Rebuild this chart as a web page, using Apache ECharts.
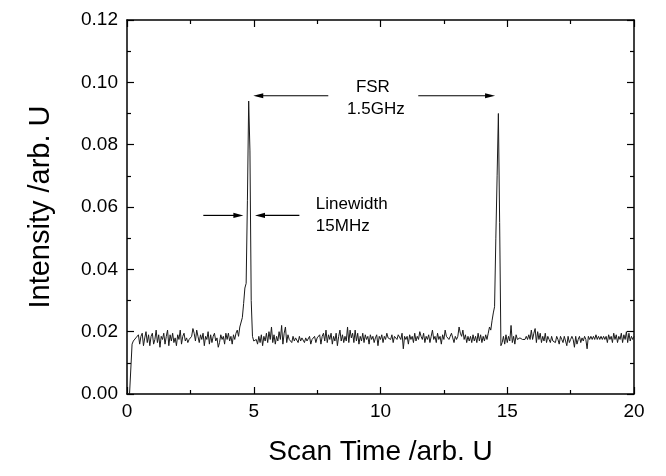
<!DOCTYPE html>
<html>
<head>
<meta charset="utf-8">
<script src="https://cdn.jsdelivr.net/npm/echarts@6/dist/echarts.min.js"></script>
<style>
html,body{margin:0;padding:0;background:#fff;}
#chart{width:666px;height:476px;}
</style>
</head>
<body>
<div id="chart"></div>
<script>
// Scan time grid (arb. U)
var scanTimeStart = 0;
var scanTimeStep = 0.05;

// Measured intensity (arb. U), one value per grid step from 0 to 20
var intensity = [
  0, 0, 0, 0, 0.016, 0.017, 0.0165, 0.018, 0.0175, 0.019, 0.016, 0.0185, 0.0195, 0.0155, 0.018, 0.02, 0.0165, 0.019, 0.0155, 0.0185,
  0.0195, 0.016, 0.0175, 0.0205, 0.0165, 0.019, 0.015, 0.0185, 0.0175, 0.0195, 0.016, 0.0185, 0.0205, 0.0155, 0.019, 0.017, 0.0195, 0.0165, 0.018, 0.0155,
  0.019, 0.0175, 0.0205, 0.016, 0.0185, 0.0195, 0.017, 0.018, 0.0165, 0.0175, 0.018, 0.0185, 0.021, 0.0195, 0.017, 0.0205, 0.0185, 0.0165, 0.019, 0.0175,
  0.0195, 0.0155, 0.0185, 0.0175, 0.02, 0.016, 0.019, 0.0165, 0.0185, 0.0195, 0.017, 0.018, 0.015, 0.0165, 0.019, 0.0175, 0.0185, 0.016, 0.0195, 0.0175,
  0.0195, 0.017, 0.0185, 0.016, 0.019, 0.0175, 0.0195, 0.0205, 0.0185, 0.0215, 0.021, 0.0245, 0.029, 0.034, 0.0355, 0.062, 0.094, 0.078, 0.03, 0.0185,
  0.017, 0.0165, 0.0175, 0.016, 0.0185, 0.0165, 0.019, 0.0155, 0.0185, 0.017, 0.0195, 0.0165, 0.02, 0.0175, 0.0215, 0.0165, 0.019, 0.016, 0.0185, 0.017,
  0.02, 0.0175, 0.022, 0.016, 0.0195, 0.0215, 0.0165, 0.019, 0.0175, 0.018, 0.0165, 0.0185, 0.017, 0.018, 0.0175, 0.0165, 0.0185, 0.017, 0.018, 0.0175,
  0.0165, 0.018, 0.017, 0.0175, 0.0185, 0.016, 0.0175, 0.017, 0.0185, 0.0165, 0.018, 0.0175, 0.019, 0.016, 0.0185, 0.0195, 0.017, 0.0205, 0.0165, 0.019,
  0.0175, 0.0195, 0.016, 0.0185, 0.017, 0.0195, 0.0155, 0.0185, 0.0205, 0.017, 0.019, 0.0165, 0.0185, 0.017, 0.0215, 0.0165, 0.0205, 0.018, 0.0195, 0.0165,
  0.0205, 0.017, 0.0195, 0.016, 0.0185, 0.017, 0.0195, 0.0165, 0.019, 0.0175, 0.0185, 0.016, 0.019, 0.0175, 0.0185, 0.0165, 0.018, 0.019, 0.0155, 0.0185,
  0.0175, 0.019, 0.0165, 0.0185, 0.0175, 0.0195, 0.018, 0.0185, 0.0175, 0.019, 0.0165, 0.0185, 0.018, 0.0175, 0.019, 0.0185, 0.0175, 0.0195, 0.0145, 0.0185,
  0.0175, 0.0185, 0.016, 0.019, 0.0175, 0.0185, 0.0165, 0.0195, 0.017, 0.0185, 0.0175, 0.02, 0.0185, 0.0175, 0.0195, 0.0165, 0.0185, 0.0175, 0.019, 0.0165,
  0.0185, 0.0205, 0.0175, 0.0185, 0.0165, 0.0195, 0.0175, 0.0185, 0.016, 0.019, 0.0175, 0.0205, 0.0185, 0.019, 0.0175, 0.0185, 0.0195, 0.018, 0.0165, 0.0185,
  0.0175, 0.0185, 0.0215, 0.0195, 0.0185, 0.0205, 0.0175, 0.019, 0.0165, 0.0185, 0.017, 0.0185, 0.0165, 0.019, 0.017, 0.0185, 0.0165, 0.0195, 0.017, 0.019,
  0.0165, 0.0185, 0.017, 0.019, 0.0175, 0.0195, 0.0215, 0.0205, 0.0235, 0.026, 0.028, 0.05, 0.07, 0.09, 0.055, 0.0155, 0.0165, 0.0185, 0.016, 0.019,
  0.0165, 0.0185, 0.017, 0.022, 0.0165, 0.0185, 0.016, 0.019, 0.0175, 0.0175, 0.018, 0.0175, 0.0175, 0.018, 0.0175, 0.0185, 0.0175, 0.019, 0.0175, 0.0205,
  0.0175, 0.0195, 0.021, 0.0165, 0.02, 0.0175, 0.0195, 0.0165, 0.0185, 0.017, 0.0195, 0.0165, 0.0185, 0.0175, 0.0165, 0.0185, 0.017, 0.0175, 0.0165, 0.0185,
  0.0175, 0.016, 0.0185, 0.0175, 0.0165, 0.0185, 0.017, 0.0155, 0.0185, 0.0165, 0.0175, 0.0185, 0.0175, 0.015, 0.0185, 0.016, 0.0175, 0.0185, 0.0165, 0.018,
  0.017, 0.0185, 0.0175, 0.0145, 0.0185, 0.0175, 0.0185, 0.0175, 0.0185, 0.0175, 0.019, 0.0175, 0.0185, 0.0175, 0.0185, 0.0175, 0.0185, 0.0175, 0.0185, 0.0165,
  0.019, 0.0175, 0.0185, 0.0165, 0.0195, 0.0175, 0.019, 0.0165, 0.0185, 0.0175, 0.0195, 0.0165, 0.019, 0.0175, 0.02, 0.0165, 0.0195, 0.017, 0.0185, 0.0175,
  0.0185
];

// Axis ranges and ticks
var xRange = [0, 20], xInterval = 5;
var yRange = [0, 0.12], yInterval = 0.02;

// Annotation arrows: [from, to] in data coordinates
var fsrArrows = [
  [[7.94, 0.0957], [4.98, 0.0957]],
  [[11.49, 0.0957], [14.52, 0.0957]]
];
var linewidthArrows = [
  [[3.01, 0.0573], [4.59, 0.0573]],
  [[6.80, 0.0573], [5.05, 0.0573]]
];
// Annotation texts: [x, y, text, align]
var annotationTexts = [
  [9.70, 0.0985, 'FSR', 'center'],
  [9.82, 0.0915, '1.5GHz', 'center'],
  [7.45, 0.0608, 'Linewidth', 'left'],
  [7.45, 0.0537, '15MHz', 'left']
];

var FONT = 'Liberation Sans, Arial, sans-serif';
var seriesData = intensity.map(function (v, i) {
  return [+(scanTimeStart + i * scanTimeStep).toFixed(2), v];
});

var textPoints = annotationTexts.map(function (t) {
  return {
    coord: [t[0], t[1]],
    symbol: 'circle',
    symbolSize: 0,
    label: {
      show: true,
      formatter: t[2],
      position: 'inside',
      align: t[3],
      verticalAlign: 'middle',
      color: '#000',
      fontFamily: FONT,
      fontSize: 17
    }
  };
});

function xAxisCfg(pos, showLabel) {
  return {
    type: 'value', position: pos, min: xRange[0], max: xRange[1], interval: xInterval,
    axisLine: { show: true, onZero: false, lineStyle: { color: '#000', width: 1.5 } },
    axisTick: { show: true, inside: true, length: 7, lineStyle: { color: '#000', width: 1.2 } },
    minorTick: { show: true, splitNumber: 2, length: 4, lineStyle: { color: '#000', width: 1.2 } },
    splitLine: { show: false },
    axisLabel: { show: showLabel, color: '#000', fontFamily: FONT, fontSize: 19, margin: 8 },
    name: showLabel ? 'Scan Time /arb. U' : '',
    nameLocation: 'middle', nameGap: 44,
    nameTextStyle: { color: '#000', fontFamily: FONT, fontSize: 28 }
  };
}
function yAxisCfg(pos, showLabel) {
  return {
    type: 'value', position: pos, min: yRange[0], max: yRange[1], interval: yInterval,
    axisLine: { show: true, onZero: false, lineStyle: { color: '#000', width: 1.5 } },
    axisTick: { show: true, inside: true, length: 7, lineStyle: { color: '#000', width: 1.2 } },
    minorTick: { show: true, splitNumber: 2, length: 4, lineStyle: { color: '#000', width: 1.2 } },
    splitLine: { show: false },
    axisLabel: { show: showLabel, color: '#000', fontFamily: FONT, fontSize: 19, margin: 9,
      formatter: function (v) { return v.toFixed(2); } },
    name: showLabel ? 'Intensity /arb. U' : '',
    nameLocation: 'middle', nameGap: 72, nameRotate: 90,
    nameTextStyle: { color: '#000', fontFamily: FONT, fontSize: 29 }
  };
}

var chart = echarts.init(document.getElementById('chart'), null, { renderer: 'canvas' });
chart.setOption({
  animation: false,
  backgroundColor: '#fff',
  grid: { left: 127, top: 20, right: 32, bottom: 82 },
  xAxis: [xAxisCfg('bottom', true), xAxisCfg('top', false)],
  yAxis: [yAxisCfg('left', true), yAxisCfg('right', false)],
  series: [{
    type: 'line',
    xAxisIndex: 0, yAxisIndex: 0,
    data: seriesData,
    showSymbol: false,
    symbol: 'none',
    lineStyle: { color: '#1a1a1a', width: 1 },
    silent: true,
    markPoint: {
      silent: true,
      data: textPoints
    }
  }]
});

// Arrows drawn through the chart's own coordinate conversion
var HEAD_LEN = 10, HEAD_HALF = 2.6;
var graphics = [];
fsrArrows.concat(linewidthArrows).forEach(function (a) {
  var p0 = chart.convertToPixel({ xAxisIndex: 0, yAxisIndex: 0 }, a[0]);
  var p1 = chart.convertToPixel({ xAxisIndex: 0, yAxisIndex: 0 }, a[1]);
  var dx = p1[0] - p0[0], dy = p1[1] - p0[1];
  var len = Math.sqrt(dx * dx + dy * dy);
  var ux = dx / len, uy = dy / len;
  var bx = p1[0] - ux * HEAD_LEN, by = p1[1] - uy * HEAD_LEN;
  graphics.push({
    type: 'line', silent: true, z: 10,
    shape: { x1: p0[0], y1: p0[1], x2: bx + ux * 1, y2: by + uy * 1 },
    style: { stroke: '#000', lineWidth: 1.2 }
  });
  graphics.push({
    type: 'polygon', silent: true, z: 10,
    shape: { points: [[p1[0], p1[1]], [bx - uy * HEAD_HALF, by + ux * HEAD_HALF], [bx + uy * HEAD_HALF, by - ux * HEAD_HALF]] },
    style: { fill: '#000' }
  });
});
chart.setOption({ graphic: graphics });
</script>
</body>
</html>
